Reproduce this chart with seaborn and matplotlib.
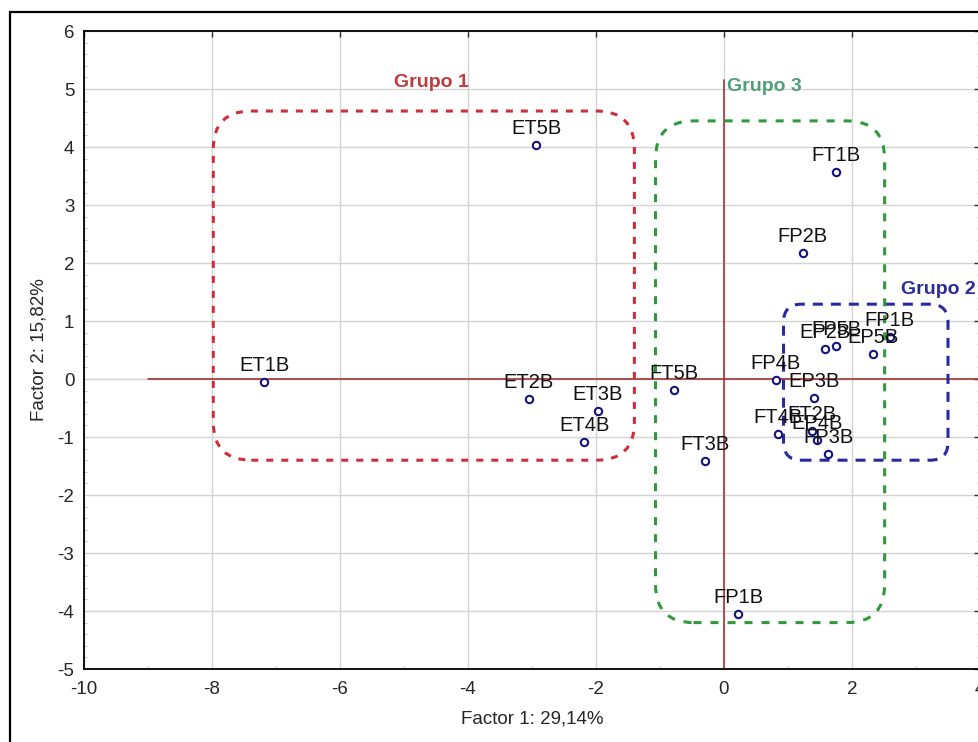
import numpy as np
import pandas as pd
import matplotlib
matplotlib.use("Agg")
import matplotlib.pyplot as plt
import seaborn as sns
from matplotlib.patches import FancyBboxPatch, Rectangle
from matplotlib.ticker import MultipleLocator

# ---- data ----
labels = ["ET1B", "ET2B", "ET3B", "ET4B", "ET5B",
          "FT1B", "FT2B", "FT3B", "FT4B", "FT5B",
          "FP1B", "EP2B", "EP3B", "EP4B", "EP5B",
          "FP1B", "FP2B", "FP3B", "FP4B", "FP5B"]
factor1 = [-7.18, -3.05, -1.97, -2.18, -2.93,
           1.75, 1.37, -0.29, 0.84, -0.78,
           2.59, 1.58, 1.40, 1.46, 2.33,
           0.22, 1.23, 1.63, 0.81, 1.75]
factor2 = [-0.05, -0.35, -0.55, -1.08, 4.03,
           3.57, -0.90, -1.41, -0.95, -0.19,
           0.72, 0.52, -0.33, -1.05, 0.43,
           -4.06, 2.17, -1.29, -0.02, 0.57]

group_names = ["Grupo 1", "Grupo 2", "Grupo 3"]
group_x0 = [-7.98, 0.93, -1.07]
group_x1 = [-1.40, 3.50, 2.51]
group_y0 = [-1.40, -1.40, -4.20]
group_y1 = [4.62, 1.29, 4.45]
group_colors = ["#cc2f3a", "#2a2aa0", "#2f9a3a"]
group_label_colors = ["#c0393b", "#2b2b9c", "#4f9f78"]
group_label_x = [-4.57, 2.76, 0.05]
group_label_y = [5.04, 1.47, 4.97]
group_label_ha = ["center", "left", "left"]

x_label = "Factor 1: 29,14%"
y_label = "Factor 2: 15,82%"

df = pd.DataFrame({"f1": factor1, "f2": factor2, "lab": labels})

W, H = 979, 742
fig = plt.figure(figsize=(W / 100, H / 100), dpi=100)
sns.set_style("white")
plt.rcParams["font.family"] = ["Liberation Sans", "DejaVu Sans"]
plt.rcParams["axes.unicode_minus"] = False

ax = fig.add_axes([84 / W, (H - 669) / H, (980 - 84) / W, (669 - 31) / H])
ax.set_xlim(-10, 4)
ax.set_ylim(-5, 6)

ax.xaxis.set_major_locator(MultipleLocator(2))
ax.xaxis.set_minor_locator(MultipleLocator(1))
ax.yaxis.set_major_locator(MultipleLocator(1))
ax.yaxis.set_minor_locator(MultipleLocator(0.2))
ax.grid(True, which="major", color="#d4d4d4", lw=1.0, zorder=0)
ax.set_axisbelow(True)

for s in ax.spines.values():
    s.set_color("black")
    s.set_linewidth(1.3)

ax.tick_params(which="major", direction="in", length=4, width=1, color="#333333",
               labelsize=13.5, right=True, top=True, labelright=False, labeltop=False)
ax.tick_params(axis="x", which="major", pad=9)
ax.tick_params(axis="y", which="major", pad=7)
ax.tick_params(which="minor", direction="in", length=2.5, width=0.6, color="#bbbbbb",
               left=True, bottom=True, right=True, top=False)

# reference lines
ax.plot([-9, 4], [0, 0], color="#a83232", lw=1.2, zorder=1)
ax.plot([0, 0], [-5, 5.16], color="#a83232", lw=1.2, zorder=1)

# group boxes (rounded, dashed)
px_x = 896 / 14.0
px_y = 638 / 11.0
radii = [38, 18, 38]
dash_specs = [(7, 8), (10, 8), (8, 9)]
lw_pt = 2.2
for i in range(3):
    r = radii[i] / px_x
    aspect = px_x / px_y
    d, g = dash_specs[i]
    box = FancyBboxPatch((group_x0[i], group_y0[i]),
                         group_x1[i] - group_x0[i], group_y1[i] - group_y0[i],
                         boxstyle=f"round,pad=0,rounding_size={r}",
                         mutation_aspect=aspect,
                         fill=False, edgecolor=group_colors[i], lw=lw_pt,
                         linestyle=(0, (d * 0.72 / lw_pt, g * 0.72 / lw_pt)),
                         zorder=2)
    ax.add_patch(box)
    ax.text(group_label_x[i], group_label_y[i], group_names[i],
            color=group_label_colors[i], fontsize=14, fontweight="bold",
            ha=group_label_ha[i], va="baseline", zorder=4)

# points
sns.scatterplot(data=df, x="f1", y="f2", ax=ax, marker="o", s=28,
                facecolor="white", edgecolor="#14147c", linewidth=1.5,
                zorder=5, legend=False)

for lab, x, y in zip(labels, factor1, factor2):
    ax.annotate(lab, (x, y), xytext=(0, 8), textcoords="offset points",
                ha="center", va="baseline", fontsize=14.5, color="#111111",
                zorder=6)

ax.set_xlabel(x_label, fontsize=13.5, labelpad=9)
ax.set_ylabel(y_label, fontsize=13.5, labelpad=7)

# outer frame
fig.add_artist(Rectangle((10 / W, -0.1), 1.2, 1.1 - 12 / H,
                         transform=fig.transFigure, fill=False,
                         edgecolor="black", lw=1.6))

fig.savefig("out.png", dpi=100)
